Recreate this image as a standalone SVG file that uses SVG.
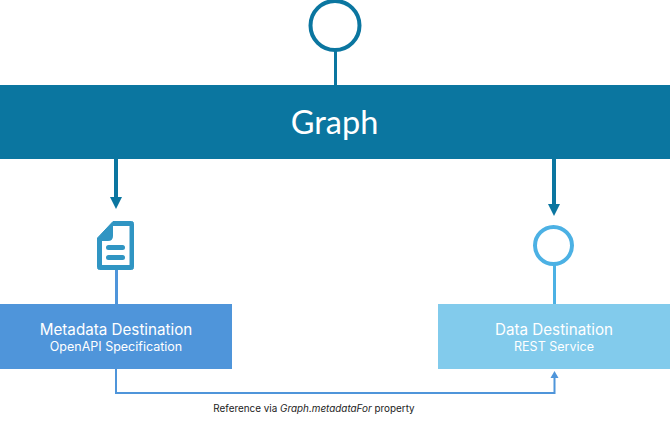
<svg xmlns="http://www.w3.org/2000/svg" width="670" height="421" viewBox="0 0 670 421">
<style>
text{font-family:"Inter","Open Sans",sans-serif;text-anchor:middle;fill:#fff}
.t{font-size:15.200px}
.s{font-size:12.500px}
.c{fill:none}
</style>
<rect width="670" height="421" fill="#fff"/>
<g id="connectors">
<path class="c" stroke="#0b76a0" stroke-width="3" d="M335.500 50V85"/>
<path class="c" stroke="#0b76a0" stroke-width="4" d="M116 159V197"/>
<path fill="#0b76a0" d="M110 197H122L116 209Z"/>
<path class="c" stroke="#0b76a0" stroke-width="4" d="M554 159V204"/>
<path fill="#0b76a0" d="M548 204H560L554 216Z"/>
<path class="c" stroke="#4f95da" stroke-width="3" d="M116.500 270V304"/>
<path class="c" stroke="#4cb1e4" stroke-width="3" d="M554.500 265V304"/>
<path class="c" stroke="#4f95da" stroke-width="2" d="M116 369V393H554.500V378"/>
<path fill="#4f95da" d="M550.500 378H558.500L554.500 371Z"/>
</g>
<g id="start-event"><circle cx="335" cy="25.500" r="24.500" fill="#fff" stroke="#0b76a0" stroke-width="4"/></g>
<g id="graph"><rect y="85" width="670" height="74" fill="#0b76a0"/><text x="334.500" y="134" font-size="32.500" style="font-family:Lato,sans-serif">Graph</text></g>
<g id="document-icon">
<path d="M113 221.500H131.500Q133.500 221.500 133.500 223.500V267.500Q133.500 269.500 131.500 269.500H99.500Q97.500 269.500 97.500 267.500V238Z" fill="#3095c3" stroke="#3095c3" stroke-width="1"/>
<path d="M113 226H129.500V265H102V241H108Q113 241 113 236Z" fill="#fff"/>
<rect x="106" y="245" width="19" height="5" rx="2.500" fill="#3095c3"/>
<rect x="106" y="255" width="19" height="5" rx="2.500" fill="#3095c3"/>
</g>
<g id="data-event"><circle cx="553.500" cy="245.500" r="18.500" fill="#fff" stroke="#4cb1e4" stroke-width="4"/></g>
<g id="metadata-destination"><rect y="304" width="232" height="65" fill="#4f95da"/><text class="t" x="116" y="335">Metadata Destination</text><text class="s" x="116" y="351">OpenAPI Specification</text></g>
<g id="data-destination"><rect x="438" y="304" width="232" height="65" fill="#82cbec"/><text class="t" x="554" y="335">Data Destination</text><text class="s" x="554" y="351">REST Service</text></g>
<text x="314" y="412" font-size="9.900" style="fill:#222">Reference via <tspan font-style="italic">Graph.metadataFor</tspan> property</text>
</svg>
